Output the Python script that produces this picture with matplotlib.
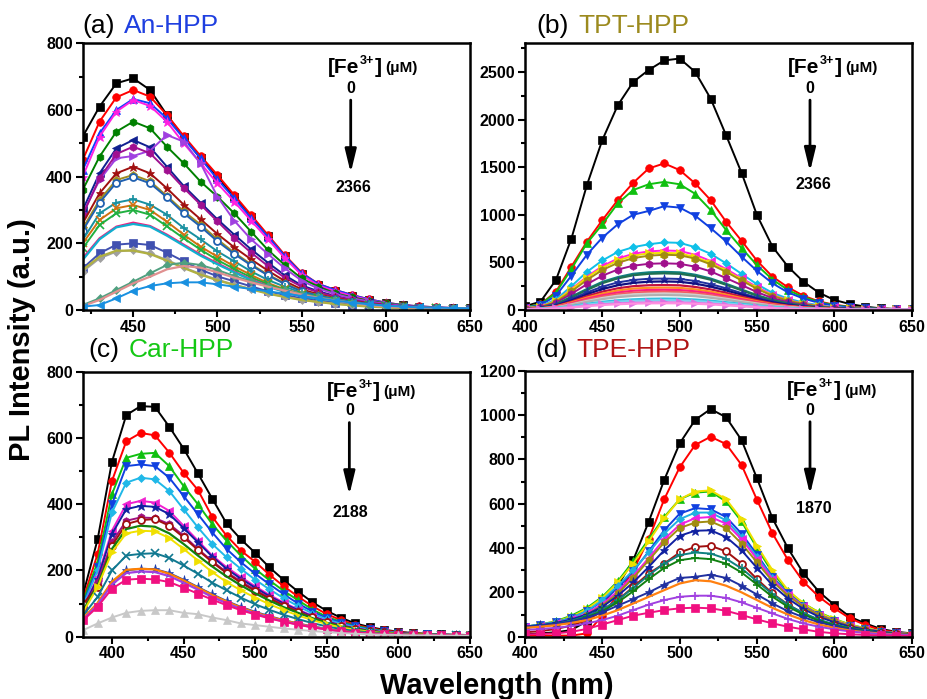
import matplotlib
matplotlib.use("Agg")
import matplotlib.pyplot as plt
from matplotlib.ticker import MultipleLocator

plt.rcParams['font.family'] = ['Liberation Sans', 'DejaVu Sans']

# ---------------- data ----------------
# (a) An-HPP, wavelengths 420..650 nm every 10 nm
a_wl = list(range(420, 651, 10))
a_series = [
    [520, 610, 680, 695, 660, 585, 518, 455, 398, 340, 280, 222, 163, 108, 74, 57, 43, 30, 20, 14, 10, 7, 5, 5],
    [450, 565, 638, 660, 640, 585, 522, 462, 405, 345, 285, 225, 165, 112, 78, 60, 45, 32, 22, 15, 11, 8, 6, 5],
    [420, 530, 600, 633, 620, 575, 515, 455, 392, 335, 276, 220, 162, 110, 78, 60, 45, 32, 22, 15, 11, 8, 6, 5],
    [400, 520, 595, 630, 612, 565, 500, 440, 380, 325, 268, 212, 156, 105, 74, 56, 42, 30, 20, 14, 10, 7, 5, 5],
    [360, 460, 535, 565, 545, 490, 440, 385, 340, 290, 235, 180, 135, 95, 70, 50, 38, 28, 20, 14, 10, 7, 5, 4],
    [300, 410, 485, 510, 488, 430, 372, 322, 272, 226, 182, 142, 104, 74, 56, 42, 31, 23, 16, 12, 9, 6, 5, 4],
    [290, 390, 455, 462, 478, 525, 505, 440, 340, 268, 212, 168, 125, 88, 64, 48, 35, 26, 18, 13, 9, 6, 5, 4],
    [285, 395, 468, 490, 470, 420, 366, 316, 266, 216, 172, 132, 97, 70, 53, 40, 30, 22, 16, 11, 8, 6, 5, 4],
    [260, 350, 410, 430, 410, 365, 316, 272, 228, 188, 152, 118, 87, 62, 47, 36, 27, 20, 14, 10, 8, 6, 4, 4],
    [245, 330, 390, 405, 386, 342, 296, 256, 212, 172, 137, 106, 80, 57, 44, 34, 25, 18, 13, 10, 7, 5, 4, 4],
    [238, 322, 382, 398, 380, 338, 290, 250, 206, 168, 134, 104, 78, 56, 43, 33, 25, 18, 13, 10, 7, 5, 4, 4],
    [210, 290, 322, 332, 316, 286, 246, 212, 176, 146, 116, 90, 70, 52, 40, 31, 23, 17, 12, 9, 7, 5, 4, 3],
    [200, 270, 305, 315, 300, 265, 226, 190, 160, 131, 105, 81, 62, 48, 37, 28, 21, 15, 11, 8, 6, 5, 4, 3],
    [185, 255, 290, 300, 286, 251, 215, 181, 150, 123, 98, 77, 60, 46, 35, 27, 20, 15, 11, 8, 6, 5, 4, 3],
    [155, 215, 250, 262, 252, 226, 196, 166, 140, 115, 92, 72, 55, 42, 32, 25, 18, 13, 10, 7, 6, 4, 4, 3],
    [150, 212, 248, 258, 250, 223, 193, 163, 137, 113, 90, 70, 54, 41, 31, 24, 18, 13, 10, 7, 6, 4, 4, 3],
    [125, 170, 196, 200, 195, 172, 146, 121, 101, 86, 71, 56, 45, 35, 27, 21, 16, 12, 9, 7, 5, 4, 3, 3],
    [115, 155, 175, 180, 170, 150, 128, 108, 91, 76, 63, 50, 40, 31, 24, 19, 14, 11, 8, 6, 5, 4, 3, 3],
    [120, 160, 178, 178, 168, 148, 126, 106, 89, 75, 62, 49, 39, 30, 24, 18, 14, 10, 8, 6, 5, 4, 3, 3],
    [15, 35, 60, 85, 110, 135, 142, 135, 120, 102, 86, 72, 60, 48, 38, 30, 22, 16, 12, 9, 7, 6, 5, 4],
    [12, 30, 55, 80, 100, 122, 132, 127, 113, 97, 83, 70, 58, 46, 36, 28, 21, 15, 11, 8, 7, 6, 5, 4],
    [10, 15, 35, 58, 72, 80, 83, 83, 77, 70, 63, 56, 49, 42, 35, 28, 22, 17, 13, 10, 8, 7, 6, 5],
]

# (b) TPT-HPP, 400..650 nm
b_wl = list(range(400, 651, 10))
b_series = [
    [40, 87, 315, 750, 1310, 1785, 2150, 2395, 2520, 2620, 2640, 2500, 2220, 1835, 1440, 995, 665, 455, 297, 182, 105, 63, 35, 17, 10, 8],
    [30, 60, 192, 455, 717, 944, 1154, 1336, 1486, 1539, 1469, 1329, 1154, 927, 727, 517, 350, 238, 150, 90, 55, 35, 22, 15, 10, 8],
    [30, 60, 180, 430, 700, 900, 1120, 1260, 1320, 1345, 1320, 1220, 1050, 840, 650, 470, 320, 210, 135, 85, 50, 32, 20, 14, 10, 8],
    [25, 50, 150, 360, 580, 760, 900, 1000, 1040, 1090, 1075, 990, 860, 720, 560, 410, 280, 185, 120, 75, 45, 28, 18, 12, 9, 7],
    [20, 40, 110, 250, 400, 520, 610, 660, 690, 710, 705, 660, 590, 490, 380, 270, 180, 120, 78, 50, 30, 20, 13, 10, 8, 6],
    [18, 35, 95, 220, 350, 460, 540, 590, 615, 625, 620, 580, 515, 430, 335, 240, 160, 105, 68, 44, 27, 18, 12, 9, 7, 6],
    [18, 35, 95, 215, 340, 445, 520, 570, 595, 600, 595, 555, 495, 410, 320, 228, 152, 100, 65, 42, 26, 17, 12, 9, 7, 6],
    [16, 32, 85, 195, 315, 420, 495, 545, 570, 580, 575, 540, 480, 400, 310, 222, 148, 97, 63, 40, 25, 17, 12, 9, 7, 6],
    [15, 28, 75, 170, 270, 360, 425, 465, 485, 490, 485, 455, 405, 335, 262, 188, 125, 82, 54, 35, 22, 15, 11, 8, 6, 5],
    [14, 25, 60, 140, 220, 295, 345, 380, 395, 400, 395, 370, 330, 275, 215, 155, 105, 70, 45, 30, 19, 13, 10, 7, 6, 5],
    [13, 24, 56, 132, 210, 282, 332, 365, 380, 385, 380, 356, 318, 265, 207, 150, 101, 67, 43, 29, 18, 12, 9, 7, 6, 5],
    [12, 22, 50, 115, 185, 245, 290, 315, 328, 330, 326, 305, 272, 228, 178, 130, 88, 58, 38, 25, 16, 11, 8, 6, 5, 4],
    [11, 20, 45, 100, 165, 220, 260, 285, 297, 300, 296, 277, 246, 206, 161, 118, 80, 53, 35, 23, 15, 10, 8, 6, 5, 4],
    [10, 18, 40, 88, 145, 192, 228, 250, 260, 262, 259, 242, 216, 180, 141, 103, 70, 46, 30, 20, 13, 9, 7, 5, 4, 4],
    [10, 17, 37, 80, 130, 172, 205, 225, 233, 235, 232, 217, 193, 161, 126, 92, 62, 41, 27, 18, 12, 8, 6, 5, 4, 4],
    [9, 16, 34, 72, 118, 155, 184, 202, 210, 212, 209, 196, 174, 145, 113, 83, 56, 37, 25, 16, 11, 8, 6, 5, 4, 4],
    [9, 15, 31, 65, 106, 140, 166, 182, 190, 192, 189, 177, 157, 131, 102, 75, 51, 34, 22, 15, 10, 7, 6, 5, 4, 4],
    [8, 14, 28, 58, 95, 126, 150, 164, 171, 173, 170, 160, 142, 118, 92, 68, 46, 31, 20, 14, 9, 7, 5, 4, 4, 3],
    [8, 13, 26, 53, 86, 114, 135, 148, 155, 157, 154, 145, 128, 107, 83, 61, 42, 28, 18, 12, 8, 6, 5, 4, 4, 3],
    [7, 11, 22, 40, 65, 86, 102, 112, 118, 120, 118, 110, 98, 82, 64, 47, 32, 22, 14, 10, 7, 5, 4, 4, 3, 3],
    [7, 10, 20, 35, 56, 74, 88, 96, 100, 102, 100, 94, 84, 70, 55, 40, 28, 19, 12, 9, 6, 5, 4, 4, 3, 3],
    [6, 9, 17, 30, 46, 60, 70, 77, 80, 82, 80, 75, 67, 56, 44, 33, 23, 15, 10, 7, 5, 4, 4, 3, 3, 3],
    [6, 8, 15, 26, 40, 52, 61, 67, 70, 71, 70, 66, 59, 49, 39, 29, 20, 13, 9, 6, 5, 4, 3, 3, 3, 3],
]

# (c) Car-HPP, 380..650 nm
c_wl = list(range(380, 651, 10))
c_series = [
    [130, 294, 528, 669, 696, 694, 634, 568, 493, 417, 342, 294, 253, 209, 171, 136, 104, 78, 57, 40, 29, 21, 15, 11, 9, 7, 6, 5],
    [115, 250, 470, 590, 615, 608, 556, 495, 443, 362, 305, 260, 226, 187, 152, 121, 92, 68, 50, 36, 26, 19, 14, 10, 8, 6, 5, 5],
    [108, 225, 430, 540, 552, 555, 515, 455, 400, 340, 290, 245, 205, 170, 138, 110, 82, 60, 45, 33, 24, 17, 12, 9, 7, 6, 5, 5],
    [100, 210, 400, 515, 520, 515, 480, 425, 370, 315, 265, 225, 190, 158, 128, 100, 76, 56, 42, 31, 22, 16, 11, 8, 7, 6, 5, 4],
    [95, 200, 375, 465, 480, 475, 440, 385, 330, 280, 240, 205, 172, 143, 116, 92, 70, 52, 39, 29, 21, 15, 11, 8, 7, 6, 5, 4],
    [90, 180, 320, 400, 410, 405, 380, 335, 290, 245, 210, 180, 152, 126, 103, 82, 63, 47, 35, 26, 19, 14, 10, 8, 6, 5, 5, 4],
    [88, 175, 310, 385, 395, 392, 370, 328, 285, 242, 205, 175, 148, 122, 100, 80, 61, 46, 34, 25, 18, 13, 10, 8, 6, 5, 4, 4],
    [85, 165, 285, 350, 360, 358, 340, 305, 265, 228, 195, 167, 141, 117, 96, 77, 59, 44, 33, 24, 17, 13, 10, 8, 6, 5, 4, 4],
    [100, 150, 275, 340, 352, 355, 335, 300, 262, 225, 192, 163, 138, 115, 94, 75, 58, 43, 32, 24, 17, 13, 10, 8, 6, 5, 4, 4],
    [80, 155, 265, 325, 335, 332, 312, 280, 245, 212, 182, 155, 131, 109, 89, 72, 56, 42, 31, 23, 17, 12, 9, 7, 6, 5, 4, 4],
    [75, 150, 255, 312, 320, 318, 298, 265, 230, 195, 165, 140, 118, 98, 80, 64, 50, 38, 28, 21, 15, 11, 9, 7, 6, 5, 4, 4],
    [65, 120, 200, 245, 250, 252, 238, 215, 190, 163, 140, 118, 98, 81, 66, 53, 41, 31, 23, 17, 13, 10, 8, 6, 5, 4, 4, 3],
    [55, 100, 165, 200, 205, 204, 192, 172, 150, 128, 108, 90, 75, 62, 50, 40, 31, 24, 18, 13, 10, 8, 6, 5, 4, 4, 3, 3],
    [56, 102, 166, 202, 205, 203, 190, 170, 148, 126, 106, 88, 73, 60, 49, 39, 30, 23, 17, 13, 10, 8, 6, 5, 4, 4, 3, 3],
    [52, 96, 158, 192, 197, 195, 183, 163, 142, 120, 101, 84, 70, 57, 46, 37, 29, 22, 16, 12, 9, 7, 6, 5, 4, 3, 3, 3],
    [50, 90, 145, 172, 175, 173, 165, 148, 130, 112, 95, 80, 67, 55, 45, 36, 28, 22, 16, 12, 9, 7, 6, 5, 4, 4, 3, 3],
    [20, 40, 58, 72, 78, 80, 80, 72, 68, 58, 50, 40, 35, 30, 25, 21, 17, 14, 11, 9, 7, 6, 5, 4, 4, 3, 3, 3],
]

# (d) TPE-HPP, 400..650 nm
d_wl = list(range(400, 651, 10))
d_series = [
    [10, 15, 20, 30, 70, 150, 230, 346, 519, 707, 872, 978, 1027, 990, 887, 714, 534, 399, 286, 203, 143, 90, 60, 35, 22, 15],
    [5, 5, 5, 5, 15, 95, 190, 300, 440, 620, 764, 865, 902, 869, 775, 617, 466, 346, 248, 180, 128, 83, 53, 30, 20, 12],
    [45, 55, 70, 95, 130, 180, 250, 340, 440, 540, 620, 650, 655, 610, 520, 400, 290, 205, 150, 110, 80, 55, 38, 25, 17, 12],
    [45, 55, 68, 90, 125, 175, 245, 330, 430, 535, 620, 655, 660, 620, 530, 410, 300, 210, 150, 108, 78, 54, 37, 25, 17, 12],
    [45, 55, 65, 85, 115, 160, 220, 295, 385, 480, 555, 580, 575, 540, 465, 370, 270, 195, 140, 100, 72, 50, 34, 23, 16, 11],
    [45, 55, 65, 85, 115, 165, 230, 300, 380, 465, 530, 560, 560, 525, 450, 360, 265, 190, 138, 98, 70, 49, 34, 23, 16, 11],
    [42, 50, 60, 78, 105, 148, 205, 275, 355, 440, 505, 535, 540, 510, 440, 350, 260, 190, 137, 98, 71, 50, 34, 23, 16, 11],
    [40, 48, 58, 75, 100, 140, 195, 265, 345, 425, 490, 515, 520, 490, 420, 335, 250, 185, 135, 97, 70, 49, 34, 23, 16, 11],
    [45, 52, 62, 78, 100, 135, 185, 245, 315, 390, 455, 478, 480, 450, 390, 310, 232, 172, 125, 90, 65, 46, 32, 22, 15, 10],
    [20, 25, 35, 50, 75, 115, 165, 225, 285, 330, 380, 405, 410, 385, 330, 260, 195, 145, 105, 75, 53, 37, 26, 18, 13, 9],
    [42, 50, 58, 72, 93, 123, 165, 220, 278, 330, 368, 380, 375, 352, 308, 250, 192, 144, 107, 77, 55, 40, 28, 19, 14, 10],
    [40, 48, 55, 68, 88, 115, 155, 205, 260, 310, 345, 355, 350, 330, 290, 235, 180, 135, 100, 72, 52, 37, 26, 18, 13, 9],
    [45, 50, 58, 68, 85, 110, 140, 170, 200, 235, 265, 270, 280, 265, 230, 190, 150, 115, 88, 65, 48, 34, 24, 17, 12, 9],
    [40, 45, 52, 62, 75, 95, 120, 150, 180, 210, 240, 255, 250, 230, 200, 165, 130, 100, 75, 55, 40, 28, 20, 14, 10, 8],
    [30, 35, 40, 48, 60, 75, 95, 120, 145, 165, 180, 185, 185, 175, 155, 130, 105, 80, 60, 45, 33, 24, 17, 12, 9, 7],
    [10, 12, 15, 22, 35, 55, 75, 95, 108, 120, 128, 131, 128, 117, 98, 78, 60, 45, 33, 22, 15, 11, 8, 6, 5, 4],
]

titles = [("(a)", "An-HPP"), ("(b)", "TPT-HPP"), ("(c)", "Car-HPP"), ("(d)", "TPE-HPP")]
end_conc = ["2366", "2366", "2188", "1870"]

# ---------------- styles ----------------
a_style = [('#000000', 's'), ('#FF0000', 'o'), ('#1040FF', '^'), ('#FF20E0', '*'),
           ('#008000', 'h'), ('#102090', '<'), ('#A040E0', '>'), ('#A01090', 'h'),
           ('#A01010', '*'), ('#A08C20', 'p'), ('#2060B0', 'oo'), ('#1890A0', '+'),
           ('#D07010', 'x'), ('#20B040', 'x'), ('#F02080', ''), ('#10B0D0', ''),
           ('#4050B0', 's'), ('#A0A0A0', 'D'), ('#B0B040', ''), ('#50A080', 'D'),
           ('#E09090', ''), ('#1890E0', '<')]
b_style = [('#000000', 's'), ('#FF0000', 'o'), ('#10C010', '^'), ('#1040E0', 'v'),
           ('#10C0E8', 'D'), ('#FF20E0', '<'), ('#F0E000', '>'), ('#A08C10', 'h'),
           ('#A0108C', 'h'), ('#108080', ''), ('#207050', ''), ('#2030A0', '*'),
           ('#101080', ''), ('#C01040', ''), ('#FF9020', ''), ('#FF2080', ''),
           ('#F06060', ''), ('#D0D0D0', ''), ('#B0B0B0', ''), ('#30C0E0', ''),
           ('#80D0F0', ''), ('#E070E0', '>'), ('#FF90E0', '')]
c_style = [('#000000', 's'), ('#FF0000', 'o'), ('#10C010', '^'), ('#1040E0', 'v'),
           ('#20B8E8', 'D'), ('#F020D0', '<'), ('#1020A0', '*'), ('#A01080', 'h'),
           ('#A01010', 'oo'), ('#108010', ''), ('#F0E000', '>'), ('#107890', 'x'),
           ('#2040B0', '*'), ('#FF8000', ''), ('#A040E0', ''), ('#F01080', 's'),
           ('#C8C8C8', '^')]
d_style = [('#000000', 's'), ('#FF0000', 'o'), ('#10C010', '^'), ('#F0E000', '>'),
           ('#1040E0', 'v'), ('#20B0E0', 'D'), ('#F020E0', '<'), ('#A08C10', 'h'),
           ('#1020A0', '*'), ('#A01010', 'oo'), ('#108080', '+'), ('#108010', '+'),
           ('#2030A0', '*'), ('#FF8010', ''), ('#A040E0', '+'), ('#F01080', 's')]

title_colors = ['#1F3FE0', '#9C8A1E', '#14C814', '#B01414']

fig = plt.figure(figsize=(9.28, 6.99), dpi=100)
W, H = 928.0, 699.0
boxes = [(82.7, 43.3, 470, 310), (525, 43.3, 911.7, 310),
         (83.3, 371.7, 470, 636.7), (525, 370.7, 911.7, 636.7)]
xlims = [(420, 650), (400, 650), (380, 650), (400, 650)]
ylims = [(0, 800), (0, 2800), (0, 800), (0, 1200)]
ymaj = [200, 500, 200, 200]
ymin = [100, 250, 100, 100]
title_pos = [(82.7, 124, 33.3), (536.7, 578.3, 33.3), (88.3, 128.3, 356.7), (535, 576.7, 356.7)]
ann = [  # fe_x, fe_y, zero_x, zero_y, arr_top, arr_bot, end_x, end_y
    (0.633, 0.888, 0.692, 0.829, 0.787, 0.514, 0.700, 0.459),
    (0.680, 0.890, 0.737, 0.831, 0.787, 0.519, 0.745, 0.471),
    (0.629, 0.906, 0.688, 0.852, 0.808, 0.535, 0.691, 0.470),
    (0.678, 0.906, 0.737, 0.852, 0.808, 0.535, 0.746, 0.481),
]

all_wl = [a_wl, b_wl, c_wl, d_wl]
all_series = [a_series, b_series, c_series, d_series]
all_style = [a_style, b_style, c_style, d_style]

for i in range(4):
    x0, y0, x1, y1 = boxes[i]
    ax = fig.add_axes([x0 / W, 1 - y1 / H, (x1 - x0) / W, (y1 - y0) / H])
    wl = all_wl[i]
    for vals, (col, mk) in zip(all_series[i], all_style[i]):
        if mk == 'oo':
            ax.plot(wl, vals, color=col, lw=1.4, marker='o', ms=5,
                    markerfacecolor='white', markeredgecolor=col, markeredgewidth=1.3)
        elif mk in ('x', '+'):
            ax.plot(wl, vals, color=col, lw=1.4, marker=mk, ms=6, markeredgewidth=1.2)
        elif mk == '':
            ax.plot(wl, vals, color=col, lw=1.6)
        else:
            ms = 6.5 if mk == '*' else (4.5 if mk == 'D' else 5.5)
            ax.plot(wl, vals, color=col, lw=1.4, marker=mk, ms=ms, markeredgewidth=0.5)
    ax.set_xlim(*xlims[i])
    ax.set_ylim(*ylims[i])
    ax.xaxis.set_major_locator(MultipleLocator(50))
    ax.xaxis.set_minor_locator(MultipleLocator(25))
    ax.yaxis.set_major_locator(MultipleLocator(ymaj[i]))
    ax.yaxis.set_minor_locator(MultipleLocator(ymin[i]))
    for s in ax.spines.values():
        s.set_linewidth(1.8)
    ax.tick_params(which='both', direction='out', top=False, right=False, width=1.5)
    ax.tick_params(which='major', length=5, labelsize=11.5, pad=2)
    ax.tick_params(which='minor', length=3)
    for lab in ax.get_xticklabels() + ax.get_yticklabels():
        lab.set_fontweight('bold')

    # titles
    tx0, tx1, ty = title_pos[i]
    fig.text(tx0 / W, 1 - ty / H, titles[i][0], fontsize=19, color='black', va='baseline')
    fig.text(tx1 / W, 1 - ty / H, titles[i][1], fontsize=19, color=title_colors[i], va='baseline')

    # annotation: [Fe3+](μM), 0, arrow, final concentration
    fx, fy, zx, zy, at, ab, ex, ey = ann[i]
    ax.annotate('[Fe', xy=(fx, fy), xycoords='axes fraction', fontsize=15,
                fontweight='bold', ha='left', va='baseline')
    ax.annotate('3+', xy=(fx, fy), xycoords='axes fraction', xytext=(23, 6.5),
                textcoords='offset points', fontsize=9, fontweight='bold',
                ha='left', va='baseline')
    ax.annotate(']', xy=(fx, fy), xycoords='axes fraction', xytext=(33.5, 0),
                textcoords='offset points', fontsize=15, fontweight='bold',
                ha='left', va='baseline')
    ax.annotate('(μM)', xy=(fx, fy), xycoords='axes fraction', xytext=(41, 0.5),
                textcoords='offset points', fontsize=11, fontweight='bold',
                ha='left', va='baseline')
    ax.text(zx, zy, '0', transform=ax.transAxes, fontsize=11.5, fontweight='bold',
            ha='center', va='center')
    ax.annotate('', xy=(zx, ab), xytext=(zx, at), xycoords='axes fraction',
                arrowprops=dict(arrowstyle='-|>,head_length=0.7,head_width=0.17',
                                color='black', lw=2, mutation_scale=20, shrinkA=0, shrinkB=0))
    ax.text(ex, ey, end_conc[i], transform=ax.transAxes, fontsize=11.5, fontweight='bold',
            ha='center', va='center')

fig.text(22 / W, 1 - 340 / H, 'PL Intensity (a.u.)', rotation=90, fontsize=21,
         fontweight='bold', ha='center', va='center')
fig.text(497 / W, 1 - 686 / H, 'Wavelength (nm)', fontsize=21, fontweight='bold',
         ha='center', va='center')

fig.savefig('out.png', dpi=100)
